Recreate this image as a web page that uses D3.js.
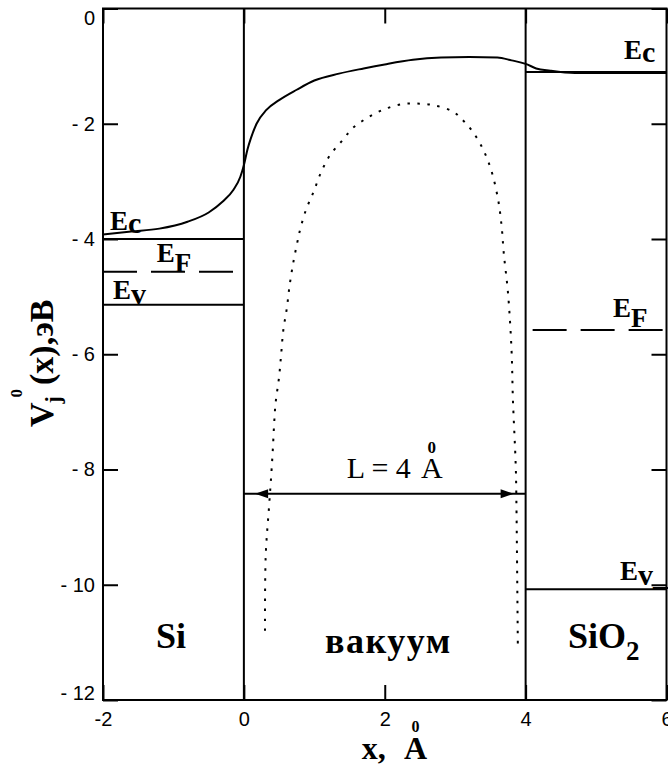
<!DOCTYPE html>
<html>
<head>
<meta charset="utf-8">
<script src="https://cdn.jsdelivr.net/npm/d3@7"></script>
<style>
  body { margin: 0; background: #fff; }
  svg { display: block; }
</style>
</head>
<body>
<svg id="chart" width="668" height="767"></svg>
<script>
// Potential profile V_j^0(x) across a Si | vacuum gap | SiO2 structure

// axis ticks
const xTicks = [-2, 0, 2, 4, 6];
const yTicks = [-12, -10, -8, -6, -4, -2, 0];

// interfaces (Å)
const interfaces = [0, 4];

// band levels, eV: Ec, EF, Ev
const levelNames = ["c", "F", "v"];
const siLevels = [-4.0, -4.57, -5.14];
const sio2Levels = [-1.1, -5.58, -10.08];

// effective potential (solid curve)
const potX = [-2, -1.6, -1.2, -0.8, -0.5, -0.3, -0.15, -0.05, 0, 0.05, 0.1, 0.18, 0.32, 0.5, 0.75, 1.0, 1.35, 1.7, 2.0, 2.4, 2.8, 3.2, 3.6, 3.8, 4.0, 4.15, 4.35, 4.7, 6.0];
const potV = [-3.92, -3.87, -3.82, -3.70, -3.54, -3.35, -3.15, -2.92, -2.72, -2.45, -2.25, -2.0, -1.76, -1.59, -1.41, -1.25, -1.13, -1.04, -0.97, -0.89, -0.85, -0.84, -0.85, -0.90, -0.96, -1.04, -1.08, -1.12, -1.12];

// image-force barrier inside the gap (dotted curve), traced along the path
const barrierX = [0.30, 0.31, 0.36, 0.39, 0.41, 0.43, 0.45, 0.50, 0.53, 0.56, 0.61, 0.65, 0.70, 0.76, 0.79, 0.88, 0.99, 1.09, 1.22, 1.39, 1.55, 1.75, 1.99, 2.25, 2.45, 2.70, 2.97, 3.11, 3.25, 3.39, 3.51, 3.61, 3.66, 3.69, 3.75, 3.80, 3.82, 3.86, 3.87, 3.89];
const barrierV = [-10.8, -9.5, -8.6, -8.07, -7.67, -7.2, -6.85, -6.39, -5.99, -5.58, -5.2, -4.8, -4.42, -4.05, -3.88, -3.50, -3.18, -2.86, -2.55, -2.30, -2.07, -1.90, -1.75, -1.66, -1.65, -1.68, -1.79, -1.94, -2.14, -2.43, -2.80, -3.32, -3.79, -4.25, -4.94, -5.93, -6.80, -7.95, -8.65, -11.14];

// gap width marker: arrow tips (Å) and level (eV)
const gapArrowX = [0.16, 3.83];
const gapArrowV = -8.42;

const serif = "'Liberation Serif', 'Times New Roman', serif";
const sans = "'Liberation Sans', Arial, sans-serif";

const svg = d3.select("#chart");
const x = d3.scaleLinear().domain([-2, 6]).range([103, 666.5]);
const y = d3.scaleLinear().domain([-12, 0]).range([700, 8.5]);

// ---- axes: ticks point inward on all four sides
function styleAxis(g) {
  g.select(".domain").remove();
  g.selectAll(".tick line").attr("stroke", "#000").attr("stroke-width", 2);
  g.selectAll("text").attr("font-family", sans).attr("font-size", 20).attr("fill", "#000");
}

const fmtY = d => d === 0 ? "0" : "- " + Math.abs(d);
const fmtX = d => d < 0 ? "-" + Math.abs(d) : String(d);

svg.append("g").attr("transform", `translate(${x(-2)},0)`)
  .call(d3.axisLeft(y).tickValues(yTicks).tickSizeInner(-15).tickSizeOuter(0).tickPadding(8).tickFormat(fmtY))
  .call(styleAxis)
  .call(g => g.selectAll("text").attr("y", d => d === 0 ? 9.5 : d === -12 ? -7 : 0));

svg.append("g").attr("transform", `translate(${x(6)},0)`)
  .call(d3.axisRight(y).tickValues(yTicks).tickSizeInner(-15).tickSizeOuter(0).tickFormat(""))
  .call(styleAxis);

svg.append("g").attr("transform", `translate(0,${y(0)})`)
  .call(d3.axisTop(x).tickValues(xTicks).tickSizeInner(-15).tickSizeOuter(0).tickFormat(""))
  .call(styleAxis);

svg.append("g").attr("transform", `translate(0,${y(-12)})`)
  .call(d3.axisBottom(x).tickValues(xTicks).tickSizeInner(-15).tickSizeOuter(0).tickPadding(12).tickFormat(fmtX))
  .call(styleAxis);

// frame
svg.append("rect")
  .attr("x", x(-2)).attr("y", y(0))
  .attr("width", x(6) - x(-2)).attr("height", y(-12) - y(0))
  .attr("fill", "none").attr("stroke", "#000").attr("stroke-width", 2);

// interfaces
svg.selectAll(".iface").data(interfaces).join("line")
  .attr("x1", d => x(d)).attr("x2", d => x(d))
  .attr("y1", y(0)).attr("y2", y(-12))
  .attr("stroke", "#000").attr("stroke-width", 2);

// band levels
function drawLevels(vals, x0, x1, dashOffset) {
  svg.append("g").selectAll("line").data(vals).join("line")
    .attr("x1", x(x0)).attr("x2", x(x1))
    .attr("y1", d => y(d)).attr("y2", d => y(d))
    .attr("stroke", "#000").attr("stroke-width", 2)
    .attr("stroke-dasharray", (d, i) => levelNames[i] === "F" ? "34,14" : null)
    .attr("stroke-dashoffset", (d, i) => levelNames[i] === "F" ? dashOffset : null);
}
drawLevels(siLevels, -2, 0, 0);
drawLevels(sio2Levels, 4, 6, 41);

// potential curve
const potPts = potX.map((v, i) => [v, potV[i]]);
svg.append("path")
  .attr("d", d3.line().x(d => x(d[0])).y(d => y(d[1])).curve(d3.curveMonotoneX)(potPts))
  .attr("fill", "none").attr("stroke", "#000").attr("stroke-width", 2);

// barrier curve (dotted)
const barPts = barrierX.map((v, i) => [v, barrierV[i]]);
svg.append("path")
  .attr("d", d3.line().x(d => x(d[0])).y(d => y(d[1])).curve(d3.curveCatmullRom.alpha(0.5))(barPts))
  .attr("fill", "none").attr("stroke", "#000").attr("stroke-width", 2)
  .attr("stroke-dasharray", "2.5,7.5");

// gap-width arrow
svg.append("line")
  .attr("x1", x(interfaces[0])).attr("x2", x(interfaces[1]))
  .attr("y1", y(gapArrowV)).attr("y2", y(gapArrowV))
  .attr("stroke", "#000").attr("stroke-width", 2);
svg.append("g").selectAll("path").data(gapArrowX).join("path")
  .attr("d", (d, i) => {
    const tx = x(d), ty = y(gapArrowV), s = i === 0 ? 1 : -1;
    return `M${tx},${ty} L${tx + s * 13},${ty - 4.5} L${tx + s * 13},${ty + 4.5} Z`;
  })
  .attr("fill", "#000");

// ---- text helpers
function eLabel(xv, yv, sub, subSize, subDy, extra) {
  const t = svg.append("text")
    .attr("x", x(xv)).attr("y", y(yv))
    .attr("font-family", serif).attr("font-weight", "bold").attr("font-size", 27)
    .attr("fill", "#000");
  t.append("tspan").text("E");
  t.append("tspan").attr("font-size", subSize).attr("dy", subDy).text(sub + (extra || ""));
}

eLabel(-1.90, -3.844, "c", 30, 3);
eLabel(-1.238, -4.394, "F", 27, 10);
eLabel(-1.858, -5.046, "v", 30, 5);
eLabel(5.396, -0.882, "c", 30, 3);
eLabel(5.24, -5.348, "F", 27, 10);
eLabel(5.34, -9.918, "v", 30, 5, "_");

// region names
function region(xv, yv, txt, sub, spacing) {
  const t = svg.append("text")
    .attr("x", x(xv)).attr("y", y(yv))
    .attr("font-family", serif).attr("font-weight", "bold").attr("font-size", 36)
    .attr("letter-spacing", spacing || 0)
    .attr("fill", "#000");
  t.append("tspan").text(txt);
  if (sub) t.append("tspan").attr("font-size", 27).attr("dy", 12).text(sub);
}
region(-1.248, -11.098, "Si");
region(1.152, -11.184, "вакуум", null, 1.5);
region(4.601, -11.103, "SiO", "2");

// Ångström sign drawn as A with a small 0 above; the A starts at ax
function withRing(px, py, prefix, ax, size, weight, ringSize, ringDy) {
  const t = svg.append("text").attr("x", px).attr("y", py)
    .attr("font-family", serif).attr("font-size", size).attr("font-weight", weight)
    .attr("fill", "#000");
  t.append("tspan").text(prefix);
  const a = t.append("tspan").attr("x", ax).text("A");
  const aw = a.node().getComputedTextLength();
  svg.append("text")
    .attr("x", ax + aw / 2).attr("y", py + ringDy)
    .attr("text-anchor", "middle")
    .attr("font-family", serif).attr("font-weight", "bold").attr("font-size", ringSize)
    .attr("fill", "#000").text("0");
}
withRing(x(1.46), y(-8.148), "L = 4", 421, 30, "normal", 17, -25);
withRing(361.7, 759, "x,", 404, 32, "bold", 16, -27);

// y-axis title: V with stacked superscript 0 and subscript j
const yt = svg.append("g").attr("transform", "translate(53,427) rotate(-90)");
const vT = yt.append("text").attr("x", 0).attr("y", 0)
  .attr("font-family", serif).attr("font-weight", "bold").attr("font-size", 34).attr("fill", "#000").text("V");
const vW = vT.node().getComputedTextLength();
yt.append("text").attr("x", vW - 1).attr("y", 7)
  .attr("font-family", serif).attr("font-weight", "bold").attr("font-size", 22).attr("fill", "#000").text("j");
yt.append("text").attr("x", vW + 5).attr("y", -31)
  .attr("font-family", serif).attr("font-weight", "bold").attr("font-size", 17).attr("fill", "#000").text("0");
yt.append("text").attr("x", 42).attr("y", 0)
  .attr("font-family", serif).attr("font-weight", "bold").attr("font-size", 34).attr("fill", "#000").text("(x),эВ");
</script>
</body>
</html>
